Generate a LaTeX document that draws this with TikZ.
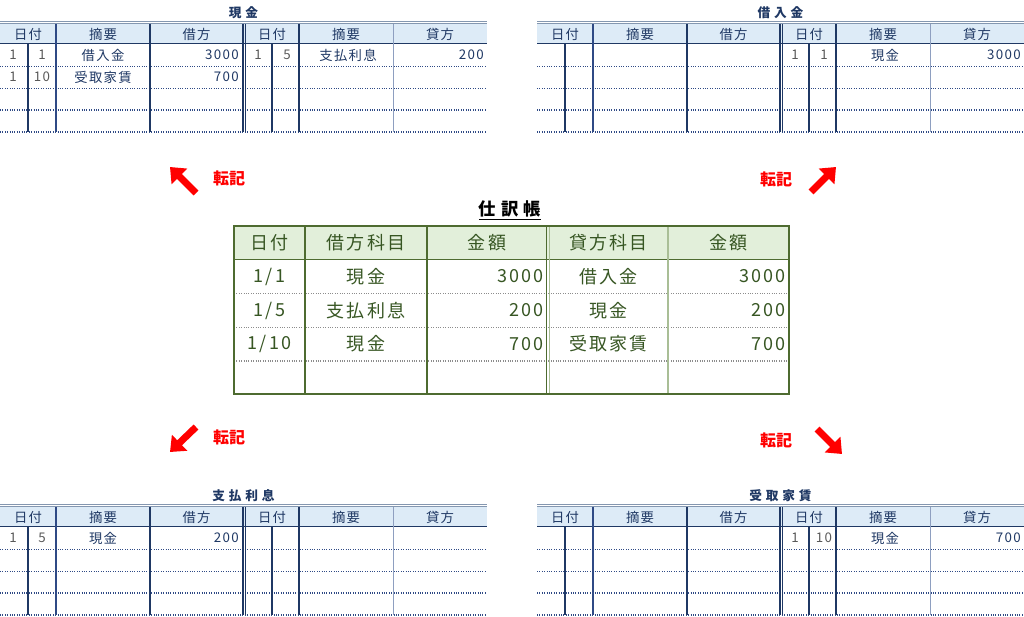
\documentclass[tikz,border=0pt]{standalone}
\usepackage{fontspec}
\setmainfont{Noto Sans CJK JP}
\newfontfamily\ledgerfont{Noto Sans CJK JP}[LetterSpace=10]
\newfontfamily\journalfont{Noto Sans CJK JP}[LetterSpace=12]
\newfontfamily\titlefont{Noto Sans CJK JP}[LetterSpace=30]
\usetikzlibrary{arrows.meta}
\definecolor{ledger-navy}{HTML}{1F3864}
\definecolor{ledger-blue}{HTML}{2F4A85}
\definecolor{ledger-pale}{HTML}{8E9FC0}
\definecolor{ledger-fill}{HTML}{DDEBF7}
\definecolor{ledger-edge}{HTML}{8497B0}
\definecolor{ledger-gray}{HTML}{595959}
\definecolor{journal-green}{HTML}{375623}
\definecolor{journal-line}{HTML}{4E6B30}
\definecolor{journal-soft}{HTML}{A9BE96}
\definecolor{journal-fill}{HTML}{E2EFDA}
\definecolor{journal-dot}{HTML}{8C8C8C}
\definecolor{post-red}{HTML}{FF0000}
\tikzset{
    ledger-title/.style = {font=\titlefont\fontsize{9.5}{11}\selectfont\bfseries, text=ledger-navy, inner sep=0pt},
    ledger-head/.style = {font=\ledgerfont\fontsize{10}{12}\selectfont, text=ledger-navy, inner sep=0pt},
    ledger-text/.style = {font=\ledgerfont\fontsize{10}{12}\selectfont, text=ledger-navy, inner sep=0pt},
    ledger-date/.style = {font=\ledgerfont\fontsize{10}{12}\selectfont, text=ledger-gray, inner sep=0pt},
    ledger-thick/.style = {draw=ledger-navy, line width=1.2pt},
    ledger-thin/.style = {draw=ledger-blue, line width=0.8pt},
    ledger-light/.style = {draw=ledger-pale, line width=0.6pt},
    ledger-dots/.style = {draw=ledger-blue, line width=0.8pt, densely dotted},
    ledger-edge-line/.style = {draw=ledger-edge, line width=0.8pt},
    journal-title/.style = {font=\titlefont\fontsize{13}{15}\selectfont\bfseries, text=black, inner sep=0pt},
    journal-head/.style = {font=\journalfont\fontsize{13.5}{16}\selectfont, text=journal-green, inner sep=0pt},
    journal-text/.style = {font=\journalfont\fontsize{13.5}{16}\selectfont, text=journal-green, inner sep=0pt},
    journal-rule/.style = {draw=journal-line, line width=1.1pt},
    journal-soft-rule/.style = {draw=journal-soft, line width=1pt},
    journal-dots/.style = {draw=journal-dot, line width=0.8pt, densely dotted},
    post-arrow/.style = {draw=post-red, line width=5.2pt, -{Triangle[length=10pt, width=16pt]}},
    post-label/.style = {font=\fontsize{12}{14}\selectfont\bfseries, text=post-red, inner sep=0pt},
}
% one T-account: name, x, y of header top, title
\newcommand{\ledger}[4]{%
  \begin{scope}[shift={(#2,#3)}]
    \fill[ledger-fill] (0,0) rectangle (487,19.5);
    \draw[ledger-edge-line] (0,-2.8) -- (487,-2.8) (0,-0.6) -- (487,-0.6);
    \draw[ledger-thick] (0,19.5) -- (487,19.5);
    \foreach \y in {42.5,64.5,86,108}
      \draw[ledger-dots] (0,\y) -- (487,\y);
    \foreach \x in {28,272}
      \draw[ledger-thick] (\x,19.5) -- (\x,108);
    \foreach \x in {150,243,245.5,299}
      \draw[ledger-thick] (\x,0) -- (\x,108);
    \draw[ledger-thin] (56,0) -- (56,108);
    \draw[ledger-light] (393,0) -- (393,108);
    \node[ledger-title] (#1-title) at (243.5,-11) {#4};
    \foreach \x/\t [count=\i] in {28/日付,103/摘要,196.5/借方,272/日付,346/摘要,440/貸方}
      \node[ledger-head] (#1-head-\i) at (\x,10) {\t};
  \end{scope}
}
% one posted line: name, x of side, y, month, day, item, amount
\newcommand{\ledgerpost}[7]{%
  \node[ledger-date] (#1-month) at (#2+13,#3) {#4};
  \node[ledger-date] (#1-day) at (#2+42,#3) {#5};
  \node[ledger-text] (#1-item) at (#2+103,#3) {#6};
  \node[ledger-text, anchor=east] (#1-amount) at (#2+239,#3) {#7};
}
% one journal line: name, y, date, debit, amount, credit, amount
\newcommand{\journalentry}[7]{%
  \node[journal-text] (#1-date) at (269.5,#2) {#3};
  \node[journal-text] (#1-debit) at (366,#2) {#4};
  \node[journal-text, anchor=east] (#1-dr-amount) at (544,#2) {#5};
  \node[journal-text] (#1-credit) at (608.5,#2) {#6};
  \node[journal-text, anchor=east] (#1-cr-amount) at (786,#2) {#7};
}

\begin{document}
\begin{tikzpicture}[x=0.75pt, y=-0.75pt]
\useasboundingbox (0,0) rectangle (1024,617);

% ledgers
\ledger{genkin}{0}{24}{現金}
\ledger{kariire}{537}{24}{借入金}
\ledger{shiharai}{0}{507}{支払利息}
\ledger{uketori}{537}{507}{受取家賃}

\ledgerpost{genkin-dr1}{0}{55}{1}{1}{借入金}{3000}
\ledgerpost{genkin-dr2}{0}{77}{1}{10}{受取家賃}{700}
\ledgerpost{genkin-cr1}{245}{55}{1}{5}{支払利息}{200}
\ledgerpost{kariire-cr1}{782}{55}{1}{1}{現金}{3000}
\ledgerpost{shiharai-dr1}{0}{538}{1}{5}{現金}{200}
\ledgerpost{uketori-cr1}{782}{538}{1}{10}{現金}{700}

% journal
\fill[journal-fill] (234,226) rectangle (789,259.5);
\foreach \y in {293.5,327.5,361}
  \draw[journal-dots] (234,\y) -- (789,\y);
\draw[journal-rule] (234,259.5) -- (789,259.5);
\foreach \x in {305,427,546.5}
  \draw[journal-rule] (\x,226) -- (\x,394);
\draw[journal-soft-rule] (549.5,226) -- (549.5,394);
\draw[journal-soft-rule] (668,226) -- (668,394);
\draw[journal-rule] (234,226) rectangle (789,394);

\node[journal-title] (journal-title) at (510,210) {\underline{仕訳帳}};
\foreach \x/\t [count=\i] in {269.5/日付,366/借方科目,487/金額,608.5/貸方科目,728.5/金額}
  \node[journal-head] (journal-head-\i) at (\x,243) {\t};

\journalentry{entry-1}{276.5}{1/1}{現金}{3000}{借入金}{3000}
\journalentry{entry-2}{310.5}{1/5}{支払利息}{200}{現金}{200}
\journalentry{entry-3}{344}{1/10}{現金}{700}{受取家賃}{700}

% posting arrows
\coordinate (genkin-tail) at (196,193);
\coordinate (genkin-tip) at (170,167);
\coordinate (kariire-tail) at (811,192);
\coordinate (kariire-tip) at (836,167);
\coordinate (shiharai-tail) at (196,427);
\coordinate (shiharai-tip) at (170,452);
\coordinate (uketori-tail) at (817,429);
\coordinate (uketori-tip) at (842,454);
\draw[post-arrow] (genkin-tail) -- (genkin-tip);
\draw[post-arrow] (kariire-tail) -- (kariire-tip);
\draw[post-arrow] (shiharai-tail) -- (shiharai-tip);
\draw[post-arrow] (uketori-tail) -- (uketori-tip);
\node[post-label] (genkin-post) at (229,178) {転記};
\node[post-label] (kariire-post) at (776,179) {転記};
\node[post-label] (shiharai-post) at (229,437) {転記};
\node[post-label] (uketori-post) at (776,440) {転記};
\end{tikzpicture}
\end{document}
